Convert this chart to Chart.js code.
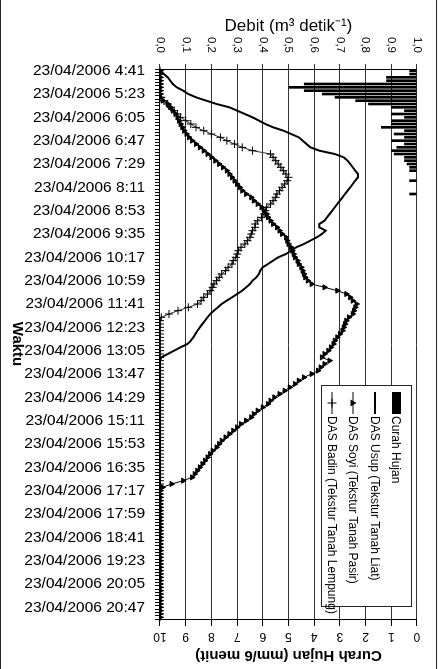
<!DOCTYPE html>
<html>
<head>
<meta charset="utf-8">
<script src="https://cdn.jsdelivr.net/npm/chart.js@4.4.1/dist/chart.umd.min.js"></script>
<style>
  html, body { margin: 0; padding: 0; background: #fff; }
  body { width: 444px; height: 669px; overflow: hidden; position: relative; }
  /* printed figure frame (left and right edges) */
  #frame {
    position: absolute; left: 0; top: -2px; width: 435px; height: 673px;
    border-left: 1px solid #222; border-right: 1px solid #222;
  }
  /* the figure is laid out as a normal landscape chart and turned a quarter clockwise */
  #wrap {
    position: absolute; left: 0; top: 0; width: 669px; height: 444px;
    transform-origin: 0 0; transform: translateX(444px) rotate(90deg);
  }
  #legend {
    position: absolute; left: 385px; top: 32px; width: 220px; height: 89px;
    border: 1px solid #222; background: #fff;
    font: 12px "Liberation Sans", Arial, sans-serif; color: #000;
  }
  .row { position: absolute; left: 6px; height: 14px; line-height: 14px; white-space: nowrap; }
  .row svg { position: absolute; left: 0; top: 1px; }
  .row span { position: absolute; left: 24px; top: 0; }
</style>
</head>
<body>
<div id="frame"></div>
<div id="wrap">
  <canvas id="chart" width="669" height="444"></canvas>
  <div id="legend"></div>
</div>
<script>
// time axis: readings every 6 minutes from 4:41
const startMinutes = 4 * 60 + 41;
const stepMinutes = 6;
const categoryCount = 165;
const labelEvery = 7;

const categories = [];
for (let i = 0; i < categoryCount; i++) {
  const m = startMinutes + i * stepMinutes;
  categories.push(`23/04/2006 ${Math.floor(m / 60)}:${String(m % 60).padStart(2, '0')}`);
}

// Curah Hujan (mm/6 menit)
const curahHujan = [
  0.3, 0.3, 1.2, 1.2, 4.4, 5.0, 4.4, 3.7, 3.2, 2.4,
  1.9, 1.0, 0.5, 1.0, 0.5, 1.0, 1.0, 1.4, 0.5, 0.9,
  0.5, 1.0, 0.5, 0.8, 1.0, 0.9, 0.5, 0.5, 0.4, 0.3,
  0.3, 0, 0, 0.3, 0, 0, 0, 0.3, 0, 0,
  0, 0, 0, 0, 0, 0, 0, 0, 0, 0, 0, 0, 0, 0, 0,
  0, 0, 0, 0, 0, 0, 0, 0, 0, 0, 0, 0, 0, 0, 0,
  0, 0, 0, 0, 0, 0, 0, 0, 0, 0, 0, 0, 0, 0, 0,
  0, 0, 0, 0, 0, 0, 0, 0, 0, 0, 0, 0, 0, 0, 0,
  0, 0, 0, 0, 0, 0, 0, 0, 0, 0, 0, 0, 0, 0, 0,
  0, 0, 0, 0, 0, 0, 0, 0, 0, 0, 0, 0, 0, 0, 0,
  0, 0, 0, 0, 0, 0, 0, 0, 0, 0, 0, 0, 0, 0, 0,
  0, 0, 0, 0, 0, 0, 0, 0, 0, 0, 0, 0, 0, 0, 0,
  0, 0, 0, 0, 0
];

// Debit DAS Usup (Tekstur Tanah Liat)
const debitUsup = [
  0, 0.015, 0.03, 0.04, 0.05, 0.065, 0.09, 0.11, 0.14, 0.18,
  0.22, 0.27, 0.30, 0.33, 0.36, 0.385, 0.41, 0.44, 0.48, 0.51,
  0.54, 0.555, 0.57, 0.585, 0.62, 0.68, 0.715, 0.73, 0.74, 0.75,
  0.76, 0.77, 0.77, 0.76, 0.75, 0.74, 0.73, 0.72, 0.71, 0.70,
  0.69, 0.68, 0.67, 0.66, 0.65, 0.64, 0.62, 0.62, 0.645, 0.63,
  0.61, 0.585, 0.56, 0.53, 0.51, 0.49, 0.46, 0.44, 0.42, 0.40,
  0.39, 0.385, 0.375, 0.36, 0.35, 0.335, 0.32, 0.30, 0.28, 0.26,
  0.24, 0.225, 0.21, 0.195, 0.185, 0.175, 0.165, 0.155, 0.146, 0.138,
  0.13, 0.12, 0.107, 0.08, 0.055, 0.03, 0.005, 0, 0, 0,
  0, 0, 0, 0, 0, 0, 0, 0, 0, 0, 0, 0, 0, 0, 0,
  0, 0, 0, 0, 0, 0, 0, 0, 0, 0, 0, 0, 0, 0, 0,
  0, 0, 0, 0, 0, 0, 0, 0, 0, 0, 0, 0, 0, 0, 0,
  0, 0, 0, 0, 0, 0, 0, 0, 0, 0, 0, 0, 0, 0, 0,
  0, 0, 0, 0, 0, 0, 0, 0, 0, 0, 0, 0, 0, 0, 0
];

// Debit DAS Soyi (Tekstur Tanah Pasir)
const debitSoyi = [
  0, 0, 0, 0, 0, 0, 0, 0, 0, 0.01,
  0.03, 0.04, 0.05, 0.06, 0.068, 0.074, 0.08, 0.087, 0.094, 0.103,
  0.113, 0.125, 0.14, 0.155, 0.17, 0.185, 0.20, 0.215, 0.23, 0.245,
  0.26, 0.27, 0.28, 0.29, 0.30, 0.31, 0.32, 0.335, 0.355, 0.365,
  0.38, 0.395, 0.405, 0.415, 0.42, 0.43, 0.44, 0.455, 0.465, 0.475,
  0.49, 0.495, 0.50, 0.51, 0.515, 0.52, 0.525, 0.535, 0.54, 0.55,
  0.555, 0.56, 0.565, 0.575, 0.59, 0.64, 0.69, 0.725, 0.74, 0.75,
  0.765, 0.76, 0.755, 0.75, 0.735, 0.725, 0.72, 0.715, 0.71, 0.70,
  0.69, 0.68, 0.675, 0.665, 0.655, 0.64, 0.63, 0.66, 0.64, 0.625,
  0.615, 0.59, 0.56, 0.54, 0.525, 0.505, 0.485, 0.465, 0.445, 0.43,
  0.42, 0.40, 0.38, 0.365, 0.355, 0.335, 0.315, 0.30, 0.285, 0.27,
  0.255, 0.24, 0.23, 0.22, 0.205, 0.195, 0.185, 0.175, 0.165, 0.155,
  0.145, 0.135, 0.125, 0.09, 0.045, 0.01, 0, 0, 0, 0,
  0, 0, 0, 0, 0, 0, 0, 0, 0, 0, 0, 0, 0, 0, 0,
  0, 0, 0, 0, 0, 0, 0, 0, 0, 0, 0, 0, 0, 0, 0,
  0, 0, 0, 0, 0
];

// Debit DAS Badin (Tekstur Tanah Lempung)
const debitBadin = [
  0, 0, 0, 0, 0, 0, 0, 0, 0.005, 0.015,
  0.03, 0.042, 0.055, 0.068, 0.08, 0.10, 0.12, 0.14, 0.17, 0.20,
  0.235, 0.26, 0.29, 0.32, 0.36, 0.43, 0.44, 0.45, 0.46, 0.47,
  0.48, 0.49, 0.50, 0.495, 0.485, 0.475, 0.465, 0.455, 0.45, 0.44,
  0.43, 0.415, 0.41, 0.405, 0.395, 0.38, 0.37, 0.37, 0.36, 0.355,
  0.35, 0.34, 0.33, 0.315, 0.305, 0.30, 0.295, 0.285, 0.28, 0.265,
  0.255, 0.24, 0.23, 0.22, 0.21, 0.205, 0.195, 0.185, 0.17, 0.16,
  0.146, 0.11, 0.07, 0.035, 0.005, 0, 0, 0, 0, 0,
  0, 0, 0, 0, 0, 0, 0, 0, 0, 0, 0, 0, 0, 0, 0,
  0, 0, 0, 0, 0, 0, 0, 0, 0, 0, 0, 0, 0, 0, 0,
  0, 0, 0, 0, 0, 0, 0, 0, 0, 0, 0, 0, 0, 0, 0,
  0, 0, 0, 0, 0, 0, 0, 0, 0, 0, 0, 0, 0, 0, 0,
  0, 0, 0, 0, 0, 0, 0, 0, 0, 0, 0, 0, 0, 0, 0,
  0, 0, 0, 0, 0, 0, 0, 0, 0, 0
];

const seriesNames = [
  'Curah Hujan',
  'DAS Usup (Tekstur Tanah Liat)',
  'DAS Soyi (Tekstur Tanah Pasir)',
  'DAS Badin (Tekstur Tanah Lempung)',
];

const FONT = '"Liberation Sans", Arial, Helvetica, sans-serif';
Chart.defaults.font.family = FONT;
Chart.defaults.color = '#000';

// rain axis labels sit upside down in the printed figure
const rainTickLabels = {
  id: 'rainTickLabels',
  afterDraw(chart) {
    const scale = chart.scales.yR;
    const { ctx } = chart;
    ctx.save();
    ctx.font = `12px ${FONT}`;
    ctx.fillStyle = '#000';
    ctx.textAlign = 'center';
    ctx.textBaseline = 'middle';
    scale.ticks.forEach((t) => {
      ctx.save();
      ctx.translate(scale.left + 17, scale.getPixelForValue(t.value));
      ctx.rotate(Math.PI / 2);
      ctx.fillText(String(t.value), 0, 0);
      ctx.restore();
    });
    ctx.restore();
  },
};

new Chart(document.getElementById('chart'), {
  type: 'bar',
  data: {
    labels: categories,
    datasets: [
      {
        type: 'bar',
        label: seriesNames[0],
        data: curahHujan,
        yAxisID: 'yR',
        backgroundColor: '#000',
        barPercentage: 0.8,
        categoryPercentage: 1,
        order: 1,
      },
      {
        type: 'line',
        label: seriesNames[1],
        data: debitUsup,
        yAxisID: 'y',
        borderColor: '#000',
        borderWidth: 2,
        pointRadius: 0,
        tension: 0,
        order: 0,
      },
      {
        type: 'line',
        label: seriesNames[2],
        data: debitSoyi,
        yAxisID: 'y',
        borderColor: '#000',
        borderWidth: 1,
        pointStyle: 'triangle',
        pointRadius: 3,
        pointBackgroundColor: '#000',
        pointBorderColor: '#000',
        pointBorderWidth: 1,
        order: 0,
      },
      {
        type: 'line',
        label: seriesNames[3],
        data: debitBadin,
        yAxisID: 'y',
        borderColor: '#333',
        borderWidth: 1,
        pointStyle: 'cross',
        pointRadius: 4,
        pointBorderColor: '#000',
        pointBorderWidth: 1,
        order: 0,
      },
    ],
  },
  options: {
    responsive: false,
    animation: false,
    layout: { padding: { top: 27, left: 0, right: 0, bottom: 0 } },
    plugins: { legend: { display: false }, tooltip: { enabled: false } },
    scales: {
      x: {
        position: 'bottom',
        offset: true,
        grid: { drawOnChartArea: false, drawTicks: true, tickLength: 5, color: '#000', offset: true },
        border: { color: '#000' },
        ticks: {
          autoSkip: false,
          minRotation: 90,
          maxRotation: 90,
          padding: 10,
          font: { size: 15.5 },
          callback(value, index) {
            return index % labelEvery === 0 ? this.getLabelForValue(value) : '';
          },
        },
        title: { display: true, text: 'Waktu', font: { size: 15, weight: 'bold' }, padding: { top: 0, bottom: 8 } },
        afterFit(scale) { scale.height = 160; },
      },
      y: {
        position: 'left',
        min: 0,
        max: 1,
        grid: { color: '#333', drawTicks: true, tickLength: 5 },
        border: { color: '#000' },
        ticks: {
          stepSize: 0.1,
          padding: 11,
          font: { size: 11.5 },
          callback: (v) => v.toFixed(1).replace('.', ','),
        },
        title: { display: true, text: 'Debit (m³ detik⁻¹)', font: { size: 17 }, padding: { top: 16 } },
        afterFit(scale) { scale.width = 69; },
      },
      yR: {
        position: 'right',
        min: 0,
        max: 10,
        reverse: true,
        grid: { drawOnChartArea: false, drawTicks: true, tickLength: 7, color: '#000' },
        border: { color: '#000' },
        ticks: { display: false, stepSize: 1 },
        title: {
          display: true,
          text: 'Curah Hujan (mm/6 menit)',
          font: { size: 15, weight: 'bold' },
          padding: { top: 5 },
        },
        afterFit(scale) { scale.width = 50; },
      },
    },
  },
  plugins: [rainTickLabels],
});

// legend box, drawn over the plot like the printed one
const legendSymbols = [
  '<rect x="0" y="1" width="22" height="9" fill="#000"/>',
  '<line x1="0" y1="6" x2="22" y2="6" stroke="#000" stroke-width="2"/>',
  '<line x1="0" y1="6" x2="22" y2="6" stroke="#000" stroke-width="1"/><polygon points="11,2.5 14.5,8.5 7.5,8.5" fill="#000"/>',
  '<line x1="0" y1="6" x2="22" y2="6" stroke="#000" stroke-width="1"/><line x1="11" y1="1.5" x2="11" y2="10.5" stroke="#000"/><line x1="6.5" y1="6" x2="15.5" y2="6" stroke="#000"/>',
];
const legendRowTops = [8, 29, 51, 72];
const legend = document.getElementById('legend');
seriesNames.forEach((name, i) => {
  const row = document.createElement('div');
  row.className = 'row';
  row.style.top = legendRowTops[i] + 'px';
  row.innerHTML = `<svg width="22" height="12" viewBox="0 0 22 12">${legendSymbols[i]}</svg><span>${name}</span>`;
  legend.appendChild(row);
});
</script>
</body>
</html>
